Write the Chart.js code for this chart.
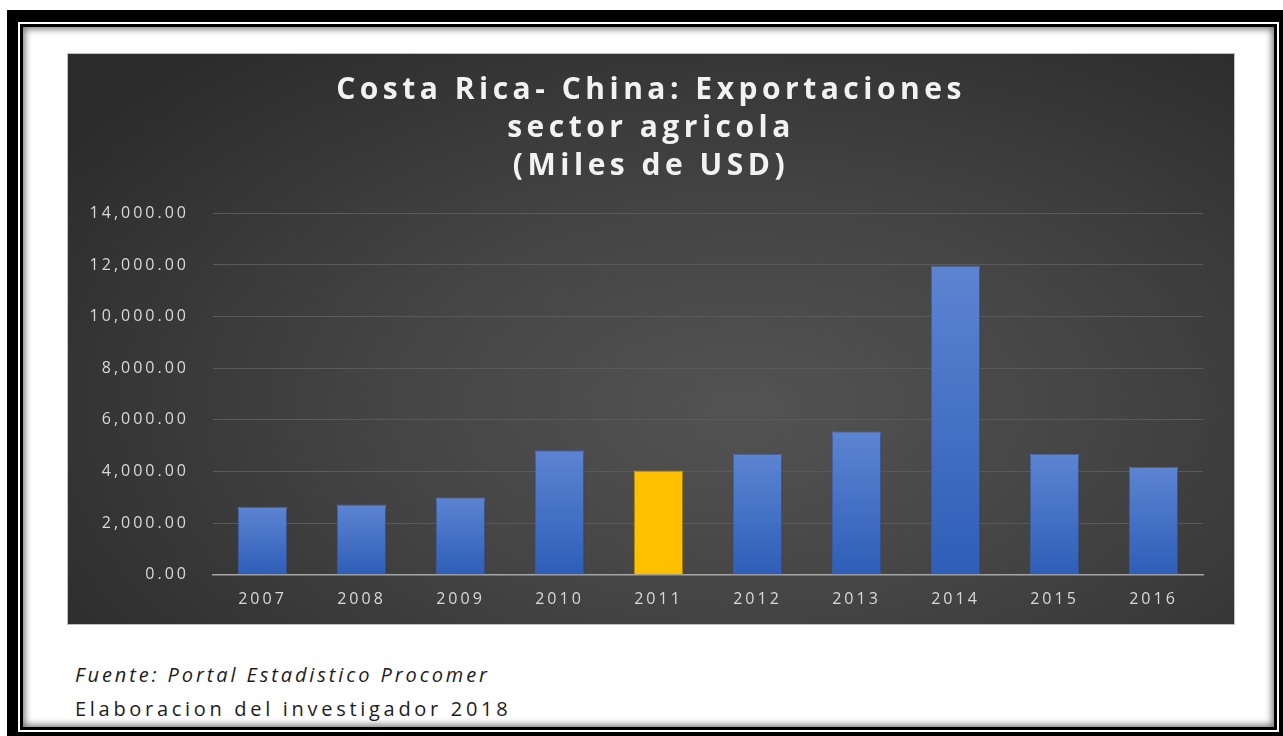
<!DOCTYPE html>
<html>
<head>
<meta charset="utf-8">
<script src="https://cdn.jsdelivr.net/npm/chart.js@4/dist/chart.umd.min.js"></script>
<style>
  html, body { margin: 0; padding: 0; background: #fff; width: 1283px; height: 736px; overflow: hidden; }
  .frame { position: absolute; left: 7px; top: 10px; width: 1276px; height: 726px; background: #000; }
  .gap { position: absolute; left: 11px; top: 12px; right: 4px; bottom: 4px; background: #fff; }
  .inner { position: absolute; left: 2px; top: 2px; right: 2px; bottom: 2px; background: #000; }
  .page { position: absolute; left: 3px; top: 3px; right: 3px; bottom: 3px; background: #fff;
          box-shadow: inset 0 0 7px 2px rgba(0,0,0,0.55); }
  .panel { position: absolute; left: 67px; top: 53px; width: 1168px; height: 572px;
           background: radial-gradient(ellipse 70% 80% at 58% 62%, #535353 0%, #444 45%, #2c2c2c 100%);
           border: 1px solid #bfbfbf; box-sizing: border-box; }
  .note { position: absolute; left: 75px; font-family: "Open Sans", sans-serif; font-size: 20px;
          color: #1c1c1c; white-space: nowrap; line-height: 1; }
</style>
</head>
<body>
<div class="frame"><div class="gap"><div class="inner"><div class="page"></div></div></div></div>
<div class="panel"><canvas id="chart" width="1166" height="570"></canvas></div>
<div class="note" style="top:665px;font-style:italic;letter-spacing:2.9px;">Fuente: Portal Estadistico Procomer</div>
<div class="note" style="top:699px;letter-spacing:3.7px;">Elaboracion del investigador 2018</div>
<script>
const years = ["2007", "2008", "2009", "2010", "2011", "2012", "2013", "2014", "2015", "2016"];
const exportValues = [2640, 2720, 3000, 4820, 4040, 4690, 5560, 11980, 4690, 4170];
const highlightYear = "2011";
const titleLines = ["Costa Rica- China: Exportaciones", "sector agricola", "(Miles de USD)"];

function barFill(context) {
  const chart = context.chart;
  if (years[context.dataIndex] === highlightYear) return "#ffc000";
  const area = chart.chartArea;
  if (!area) return "#4472c4";
  const y = chart.scales.y;
  const top = y.getPixelForValue(context.raw);
  const base = y.getPixelForValue(0);
  const grad = chart.ctx.createLinearGradient(0, top, 0, base);
  grad.addColorStop(0, "#5c84d2");
  grad.addColorStop(1, "#2e5eb8");
  return grad;
}

const spacing = {
  id: "spacing",
  afterInit(chart) {
    // wider tracking for the title only
    const tb = chart.titleBlock;
    const drawTitle = tb.draw.bind(tb);
    tb.draw = (area) => {
      chart.ctx.letterSpacing = "4.5px";
      drawTitle(area);
      chart.ctx.letterSpacing = "3px";
    };
  },
  beforeUpdate(chart) { chart.ctx.letterSpacing = "3px"; },
  beforeDraw(chart) { chart.ctx.letterSpacing = "3px"; },
  beforeDatasetsDraw(chart) {
    const ctx = chart.ctx;
    ctx.save();
    ctx.shadowColor = "rgba(0,0,0,0.55)";
    ctx.shadowBlur = 6;
    ctx.shadowOffsetX = 1;
    ctx.shadowOffsetY = 1;
  },
  afterDatasetsDraw(chart) { chart.ctx.restore(); },
};

new Chart(document.getElementById("chart"), {
  type: "bar",
  data: {
    labels: years,
    datasets: [
      {
        data: exportValues,
        backgroundColor: barFill,
        borderColor: (c) => (years[c.dataIndex] === highlightYear ? "#e6ad00" : "#4f78c8"),
        borderWidth: 1,
        barPercentage: 0.5,
        categoryPercentage: 1,
      },
    ],
  },
  plugins: [spacing],
  options: {
    responsive: false,
    animation: false,
    layout: { padding: { left: 0, right: 0, top: 0, bottom: 0 } },
    plugins: {
      legend: { display: false },
      tooltip: { enabled: false },
      title: {
        display: true,
        text: titleLines,
        color: "#f2f2f2",
        font: { family: "Open Sans", size: 30, weight: "bold", lineHeight: 1.27 },
        padding: { top: 17, bottom: 28 },
      },
    },
    scales: {
      x: {
        grid: { display: false, drawTicks: false },
        border: { color: "#a6a6a6", width: 1.5 },
        ticks: { color: "#d9d9d9", font: { family: "Open Sans", size: 16 }, padding: 15 },
      },
      y: {
        min: 0,
        max: 14000,
        afterFit(scale) { scale.width = 145; },
        grid: { color: "#5a5a5a", drawTicks: false, lineWidth: 1 },
        border: { display: false },
        ticks: {
          stepSize: 2000,
          color: "#d9d9d9",
          padding: 24,
          font: { family: "Open Sans", size: 16 },
          callback: (v) => Number(v).toLocaleString("en-US", { minimumFractionDigits: 2, maximumFractionDigits: 2 }),
        },
      },
      yRight: {
        position: "right",
        min: 0,
        max: 14000,
        afterFit(scale) { scale.width = 31; },
        grid: { display: false, drawTicks: false },
        border: { display: false },
        ticks: { display: false },
      },
    },
  },
});
</script>
</body>
</html>
